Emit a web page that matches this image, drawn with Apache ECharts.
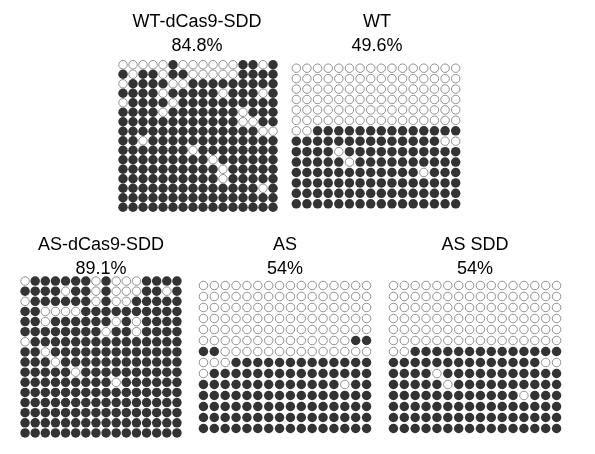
<!DOCTYPE html>
<html><head><meta charset="utf-8">
<script src="https://cdn.jsdelivr.net/npm/echarts@6/dist/echarts.min.js"></script>
<style>html,body{margin:0;background:#fff}#c{width:595px;height:454px}</style>
</head><body><div id="c"></div>
<script>
// 1 = methylated (filled), 0 = unmethylated (open)
const names = ['WT-dCas9-SDD', 'WT', 'AS-dCas9-SDD', 'AS', 'AS SDD']
const percents = ['84.8%', '49.6%', '89.1%', '54%', '54%']
const wtDcas9 = ['0000010000001101','1011011000001111','0111100111111111','1111011111011101',
  '0111101111111111','1111011111110111','1111111111110011','1111111111111100','1101111111111111',
  '1111111011111111','1111111110111111','1111111111011111','1111111111011111','1111111111111101',
  '1111111111111111','1111111111111111']
const wt = ['0000000000000000','0000000000000000','0000000000000000','0000000000000000',
  '0000000000000000','0000000000000000','0011111111111111','1111111111111100','1111011111111111',
  '1111101111111111','1111111111110111','1111111111111111','1111111111111111','1111111111111111']
const asDcas9 = ['0111111010001111','1111011010001101','0111111010011111','1100001111111111',
  '1101111110101111','1111111101101111','0111111111111111','1101111111111111','1110111111111111',
  '1111101111111111','1111111110111111','1111111111111111','1111111111111111','1111111111111111',
  '1111111111111111','1111111111111111']
const as = ['0000000000000000','0000000000000000','0000000000000000','0000000000000000',
  '0000000000000000','0000000000000011','1100000000000000','0001111111111111','0111111111111111',
  '1111111111111011','1111111111111111','1111111111111111','1111111111111111','1111111111111111']
const asSdd = wt.slice()
const panels = [wtDcas9, wt, asDcas9, as, asSdd]

const boxes = [
  {left: 118, top: 60, width: 160, height: 152, cx: 197, ty: 10},
  {left: 291, top: 63, width: 170, height: 146, cx: 377, ty: 10},
  {left: 20, top: 276, width: 162, height: 162, cx: 101, ty: 233},
  {left: 198, top: 280, width: 174, height: 154, cx: 285, ty: 233},
  {left: 388, top: 280, width: 174, height: 154, cx: 475, ty: 233}
]

const grid = [], xAxis = [], yAxis = [], series = [], graphic = []
panels.forEach((rows, i) => {
  const b = boxes[i]
  grid.push({left: b.left, top: b.top, width: b.width, height: b.height})
  xAxis.push({type: 'value', gridIndex: i, min: -0.5, max: 15.5, show: false})
  yAxis.push({type: 'value', gridIndex: i, min: -0.5, max: rows.length - 0.5, inverse: true, show: false})
  const filled = [], open = []
  rows.forEach((r, y) => {
    r.split('').forEach((c, x) => (c === '1' ? filled : open).push([x, y]))
  })
  series.push({type: 'scatter', xAxisIndex: i, yAxisIndex: i, data: filled, symbolSize: 9.5,
    itemStyle: {color: '#000'}, silent: true})
  series.push({type: 'scatter', xAxisIndex: i, yAxisIndex: i, data: open, symbolSize: 8.5,
    itemStyle: {color: '#fff', borderColor: '#777', borderWidth: 1}, silent: true})
  graphic.push({type: 'text', x: b.cx, y: b.ty, style: {text: names[i] + '\n' + percents[i],
    align: 'center', font: '18px "Liberation Sans", Arial', lineHeight: 24, fill: '#000'}})
})

const chart = echarts.init(document.getElementById('c'))
chart.setOption({animation: false, grid, xAxis, yAxis, series, graphic})
</script>
</body></html>
